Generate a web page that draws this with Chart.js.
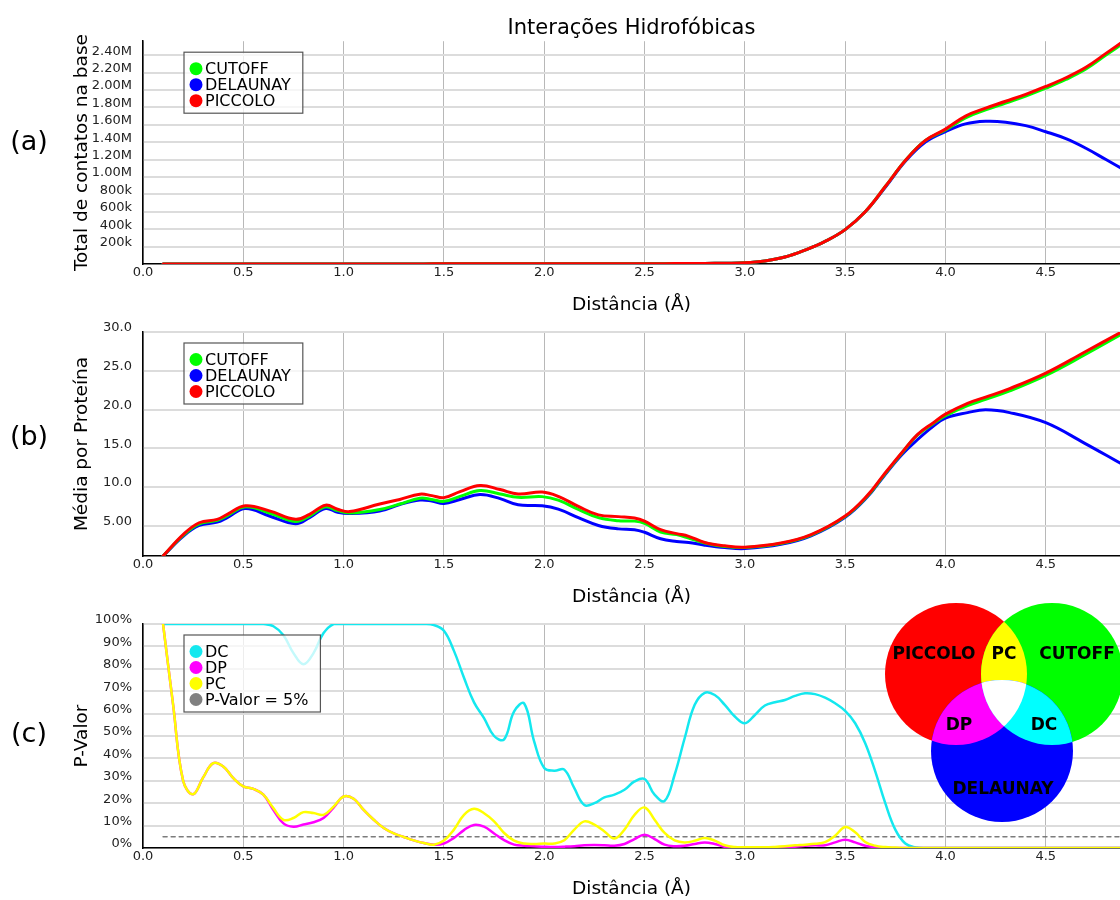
<!DOCTYPE html>
<html>
<head>
<meta charset="utf-8">
<script src="https://cdn.jsdelivr.net/npm/chart.js@4.4.1/dist/chart.umd.min.js"></script>
<style>
  body { margin: 0; background: #fff; width: 1120px; height: 900px; position: relative; overflow: hidden; }
  .panel { position: absolute; left: 0; width: 1120px; height: 316px; }
</style>
</head>
<body>
<div class="panel" style="top:0"><canvas id="chartA" width="1120" height="316"></canvas></div>
<div class="panel" style="top:292px"><canvas id="chartB" width="1120" height="316"></canvas></div>
<div class="panel" style="top:584px"><canvas id="chartC" width="1120" height="316"></canvas></div>
<script>
// x axis (distance, Å)
var ticksX = [0, 0.5, 1.0, 1.5, 2.0, 2.5, 3.0, 3.5, 4.0, 4.5];
var xMax = 4.87;

// (a) total contacts, in millions
var distA = [0.1, 0.2, 0.3, 0.4, 0.5, 0.6, 0.7, 0.8, 0.9, 1.0,
             1.1, 1.2, 1.3, 1.4, 1.5, 1.6, 1.7, 1.8, 1.9, 2.0,
             2.1, 2.2, 2.3, 2.4, 2.5, 2.6, 2.7, 2.8, 2.9, 3.0,
             3.1, 3.2, 3.3, 3.4, 3.5, 3.6, 3.7, 3.8, 3.9, 4.0,
             4.1, 4.2, 4.3, 4.4, 4.5, 4.6, 4.7, 4.8, 4.9];
var cutoffA = [0.001, 0.001, 0.001, 0.001, 0.001, 0.001, 0.001, 0.001, 0.001, 0.001,
               0.001, 0.001, 0.001, 0.001, 0.002, 0.002, 0.002, 0.002, 0.002, 0.002,
               0.002, 0.002, 0.003, 0.003, 0.003, 0.004, 0.005, 0.006, 0.009, 0.014,
               0.035, 0.08, 0.16, 0.26, 0.395, 0.60, 0.89, 1.19, 1.42, 1.54,
               1.68, 1.77, 1.85, 1.93, 2.02, 2.12, 2.24, 2.40, 2.56];
var delaunayA = [0.001, 0.001, 0.001, 0.001, 0.001, 0.001, 0.001, 0.001, 0.001, 0.001,
                 0.001, 0.001, 0.001, 0.001, 0.002, 0.002, 0.002, 0.002, 0.002, 0.002,
                 0.002, 0.002, 0.003, 0.003, 0.003, 0.004, 0.005, 0.006, 0.009, 0.014,
                 0.035, 0.08, 0.16, 0.26, 0.395, 0.60, 0.88, 1.18, 1.40, 1.52,
                 1.61, 1.64, 1.63, 1.59, 1.52, 1.44, 1.33, 1.20, 1.07];
var piccoloA = [0.001, 0.001, 0.001, 0.001, 0.001, 0.001, 0.001, 0.001, 0.001, 0.001,
                0.001, 0.001, 0.001, 0.001, 0.002, 0.002, 0.002, 0.002, 0.002, 0.002,
                0.002, 0.002, 0.003, 0.003, 0.003, 0.004, 0.005, 0.006, 0.009, 0.014,
                0.035, 0.08, 0.16, 0.26, 0.395, 0.60, 0.89, 1.19, 1.42, 1.55,
                1.70, 1.79, 1.87, 1.95, 2.04, 2.14, 2.26, 2.42, 2.58];
var ticksA = [0.2, 0.4, 0.6, 0.8, 1.0, 1.2, 1.4, 1.6, 1.8, 2.0, 2.2, 2.4];

// (b) mean per protein
var distB = [0.10, 0.20, 0.28, 0.37, 0.42, 0.51, 0.63, 0.76, 0.83, 0.91,
             0.97, 1.03, 1.18, 1.28, 1.38, 1.44, 1.50, 1.58, 1.68, 1.78,
             1.87, 1.99, 2.07, 2.17, 2.27, 2.37, 2.45, 2.50, 2.58, 2.66,
             2.72, 2.80, 2.90, 3.00, 3.18, 3.33, 3.50, 3.61, 3.69, 3.78,
             3.86, 3.94, 4.00, 4.11, 4.20, 4.32, 4.50, 4.69, 4.87];
var cutoffB = [1.10, 3.75, 5.25, 5.70, 6.30, 7.45, 6.65, 5.55, 6.25, 7.45,
               6.95, 6.65, 7.10, 7.80, 8.55, 8.40, 8.15, 8.80, 9.55, 9.10,
               8.67, 8.76, 8.30, 7.10, 6.05, 5.65, 5.60, 5.30, 4.20, 3.86,
               3.42, 2.77, 2.32, 2.20, 2.72, 3.80, 6.20, 8.80, 11.40, 14.30,
               16.70, 18.20, 19.20, 20.50, 21.30, 22.40, 24.40, 27.00, 29.60];
var delaunayB = [1.10, 3.64, 5.04, 5.47, 6.05, 7.23, 6.26, 5.26, 6.05, 7.23,
                 6.75, 6.57, 6.90, 7.75, 8.32, 8.20, 7.88, 8.40, 9.02, 8.50,
                 7.70, 7.58, 7.14, 6.05, 5.04, 4.60, 4.50, 4.16, 3.33, 2.98,
                 2.85, 2.50, 2.19, 2.06, 2.60, 3.70, 6.10, 8.70, 11.30, 14.10,
                 16.10, 17.86, 18.90, 19.60, 19.96, 19.60, 18.30, 15.70, 13.10];
var piccoloB = [1.10, 3.86, 5.39, 5.83, 6.48, 7.58, 6.92, 5.83, 6.48, 7.66,
                7.14, 6.83, 7.80, 8.40, 9.07, 8.89, 8.63, 9.41, 10.20, 9.67,
                9.11, 9.35, 8.80, 7.50, 6.40, 6.18, 6.00, 5.60, 4.50, 3.99,
                3.64, 2.85, 2.41, 2.24, 2.77, 3.86, 6.26, 8.89, 11.50, 14.36,
                16.76, 18.30, 19.40, 20.80, 21.60, 22.70, 24.70, 27.35, 29.90];
var ticksB = [5, 10, 15, 20, 25, 30];

// (c) p-values (%)
var distC = [0.10, 0.15, 0.20, 0.25, 0.30, 0.35, 0.40, 0.45, 0.50, 0.55,
             0.60, 0.65, 0.70, 0.75, 0.80, 0.85, 0.90, 0.95, 1.00, 1.05,
             1.10, 1.15, 1.20, 1.25, 1.30, 1.35, 1.40, 1.45, 1.50, 1.55,
             1.60, 1.65, 1.70, 1.75, 1.80, 1.85, 1.90, 1.95, 2.00, 2.05,
             2.10, 2.15, 2.20, 2.25, 2.30, 2.35, 2.40, 2.45, 2.50, 2.55,
             2.60, 2.65, 2.70, 2.75, 2.80, 2.85, 2.90, 2.95, 3.00, 3.05,
             3.10, 3.15, 3.20, 3.25, 3.30, 3.35, 3.40, 3.45, 3.50, 3.55,
             3.60, 3.65, 3.70, 3.75, 3.80, 3.85, 3.90, 4.00, 4.50, 4.90];
var pDC = [100, 100, 100, 100, 100, 100, 100, 100, 100, 100,
           100, 99, 95, 87, 82, 87, 96, 100, 100, 100,
           100, 100, 100, 100, 100, 100, 100, 99.5, 97, 88,
           76, 65, 58, 50, 48.5, 61, 64.5, 47.5, 35.7, 34.5,
           35, 26.7, 19.2, 20, 22.6, 23.8, 26, 29.7, 30.8, 23.8,
           21, 32.7, 49, 63.9, 69.3, 68.3, 63.9, 58.7, 55.7, 59.4,
           63.6, 65.1, 66.1, 67.9, 69.1, 68.7, 67.1, 64.6, 61.2, 55.7,
           46.8, 34.2, 20, 8.2, 2, 0.3, 0, 0, 0, 0];
var pDP = [100, 64, 30, 24, 31.5, 37.9, 36.4, 31.2, 27.5, 26.4,
           23.8, 17, 11, 9.5, 10.5, 11.5, 13.4, 18, 23, 22,
           17, 12.6, 8.9, 6.5, 4.9, 3.4, 2.2, 1.5, 2, 4.5,
           8, 10.3, 9.5, 6.5, 3.5, 1.5, 1, 0.8, 0.6, 0.5,
           0.6, 0.8, 1.2, 1.3, 1.2, 1, 1.8, 4, 5.9, 4,
           1.5, 0.8, 1, 1.8, 2.5, 1.8, 0.5, 0.2, 0.1, 0.2,
           0.3, 0.3, 0.4, 0.6, 1, 1.2, 1.2, 2.5, 3.7, 2.5,
           1, 0.4, 0.2, 0, 0, 0, 0, 0, 0, 0];
var pPC = [100, 64, 30, 24, 31.5, 37.9, 36.4, 31.2, 27.5, 26.4,
           23.8, 17.8, 12.6, 13.4, 16, 15.6, 14.8, 18.5, 23, 22,
           17, 12.6, 8.9, 6.5, 4.9, 3.4, 2.2, 1.5, 3.3, 8.2,
           14.8, 17.5, 15.5, 11.9, 6.7, 3.3, 2, 1.8, 2, 2,
           3.5, 8.2, 11.9, 10.4, 7.4, 4.2, 8.2, 14.8, 18.1, 12.6,
           6.7, 3.4, 2.5, 3.2, 4.5, 3.3, 1.2, 0.4, 0.3, 0.3,
           0.3, 0.5, 0.8, 1.2, 1.5, 1.9, 2.6, 5.5, 9.4, 7,
           2.7, 1, 0.4, 0.2, 0, 0, 0, 0, 0, 0];
var limiteX = [0.10, 4.90];
var limiteY = [5, 5];
var ticksC = [0, 10, 20, 30, 40, 50, 60, 70, 80, 90, 100];

Chart.defaults.font.family = '"DejaVu Sans", Verdana, sans-serif';
Chart.defaults.color = '#222';

function pts(xs, ys) {
    return xs.map(function (x, i) { return { x: x, y: ys[i] }; });
}

function line(label, xs, ys, color, order, width) {
    return {
        label: label,
        data: pts(xs, ys),
        borderColor: color,
        backgroundColor: color,
        borderWidth: width,
        order: order,
        fill: false
    };
}

// legend box inside the plot, drawn over the lines with a see-through fill
var boxLegend = {
    id: 'boxLegend',
    afterDatasetsDraw: function (chart) {
        var ctx = chart.ctx, area = chart.chartArea;
        var sets = chart.data.datasets;
        var x = area.left + 41, y = area.top + 11;
        ctx.save();
        ctx.font = '16px "DejaVu Sans"';
        var maxW = 0;
        sets.forEach(function (ds) { maxW = Math.max(maxW, ctx.measureText(ds.label).width); });
        var w = 21 + maxW + 12;
        var h = 16.5 + 16 * (sets.length - 1) + 12.5;
        ctx.fillStyle = 'rgba(255,255,255,0.75)';
        ctx.fillRect(x, y, w, h);
        ctx.strokeStyle = '#555';
        ctx.lineWidth = 1.2;
        ctx.strokeRect(x, y, w, h);
        ctx.textBaseline = 'middle';
        sets.forEach(function (ds, i) {
            var cy = y + 16.5 + i * 16;
            ctx.beginPath();
            ctx.arc(x + 12, cy, 6.5, 0, 2 * Math.PI);
            ctx.fillStyle = ds.legendColor || ds.borderColor;
            ctx.fill();
            ctx.fillStyle = '#000';
            ctx.fillText(ds.label, x + 21, cy + 1);
        });
        ctx.restore();
    }
};

// (a) / (b) / (c) tags at the left
var panelTag = {
    id: 'panelTag',
    afterDraw: function (chart, args, opts) {
        var ctx = chart.ctx;
        ctx.save();
        ctx.font = '27px "DejaVu Sans"';
        ctx.fillStyle = '#000';
        ctx.textAlign = 'center';
        ctx.textBaseline = 'middle';
        ctx.fillText(opts.text, 29, opts.y);
        ctx.restore();
    }
};

// three-set diagram, pairwise overlaps in the mixed colours
var venn = {
    id: 'venn',
    afterDraw: function (chart, args, opts) {
        var ctx = chart.ctx;
        var c = opts.circles;
        function path(k) { ctx.beginPath(); ctx.arc(c[k].x, c[k].y, c[k].r, 0, 2 * Math.PI); }
        function region(keys, color) {
            ctx.save();
            keys.forEach(function (k) { path(k); ctx.clip(); });
            ctx.fillStyle = color;
            ctx.fillRect(0, 0, chart.width, chart.height);
            ctx.restore();
        }
        ctx.save();
        ['p', 'c', 'd'].forEach(function (k) { path(k); ctx.fillStyle = c[k].color; ctx.fill(); });
        region(['p', 'c'], '#ffff00');
        region(['p', 'd'], '#ff00ff');
        region(['c', 'd'], '#00ffff');
        region(['p', 'c', 'd'], '#ffffff');
        ctx.font = 'bold 17px "DejaVu Sans"';
        ctx.fillStyle = '#000';
        ctx.textAlign = 'center';
        ctx.textBaseline = 'middle';
        opts.labels.forEach(function (l) { ctx.fillText(l.text, l.x, l.y); });
        ctx.restore();
    }
};

function options(p) {
    return {
        responsive: false,
        animation: false,
        layout: { padding: { top: p.padTop, left: 0, right: 0, bottom: 0 } },
        elements: {
            point: { radius: 0 },
            line: { tension: 0.4, borderCapStyle: 'round', borderJoinStyle: 'round' }
        },
        plugins: {
            legend: { display: false },
            tooltip: { enabled: false },
            title: p.title,
            panelTag: { text: p.tag, y: p.tagY },
            venn: p.venn || {}
        },
        scales: {
            x: {
                type: 'linear',
                min: 0,
                max: xMax,
                afterBuildTicks: function (ax) { ax.ticks = ticksX.map(function (v) { return { value: v }; }); },
                afterFit: function (ax) { ax.height = 52; },
                grid: { color: 'rgba(0,0,0,0.28)', lineWidth: 1, drawTicks: false },
                border: { color: '#000', width: 1.5 },
                ticks: {
                    padding: 1,
                    autoSkip: false,
                    maxRotation: 0,
                    font: { size: 13 },
                    callback: function (v) { return v.toFixed(1); }
                },
                title: {
                    display: true,
                    text: 'Distância (Å)',
                    color: '#000',
                    font: { size: 18.5 },
                    padding: { top: 0, bottom: 0 }
                }
            },
            y: {
                min: p.yMin,
                max: p.yMax,
                afterBuildTicks: function (ax) { ax.ticks = p.yTicks.map(function (v) { return { value: v }; }); },
                afterFit: function (ax) { ax.width = 143; },
                grid: { color: '#dcdcdc', lineWidth: 2, drawTicks: false },
                border: { color: '#000', width: 1.5 },
                ticks: {
                    padding: 11,
                    labelOffset: -4,
                    autoSkip: false,
                    font: { size: 13 },
                    callback: p.fmt
                },
                title: {
                    display: true,
                    text: p.yTitle,
                    color: '#000',
                    font: { size: 18.5 },
                    padding: { top: 71, bottom: 0 }
                }
            }
        }
    };
}

// (a)
new Chart(document.getElementById('chartA'), {
    type: 'line',
    data: {
        datasets: [
            line('CUTOFF', distA, cutoffA, '#00ff00', 1, 3),
            line('DELAUNAY', distA, delaunayA, '#0000ff', 2, 3),
            line('PICCOLO', distA, piccoloA, '#ff0000', 0, 3)
        ]
    },
    options: options({
        padTop: 0,
        title: {
            display: true,
            text: 'Interações Hidrofóbicas',
            fullSize: false,
            color: '#000',
            font: { size: 21, weight: 'normal' },
            padding: { top: 16, bottom: 0 }
        },
        tag: '(a)', tagY: 143,
        yMin: 0, yMax: 2.56, yTicks: ticksA,
        yTitle: 'Total de contatos na base',
        fmt: function (v) { return v >= 1 ? v.toFixed(2) + 'M' : Math.round(v * 1000) + 'k'; }
    }),
    plugins: [boxLegend, panelTag]
});

// (b)
new Chart(document.getElementById('chartB'), {
    type: 'line',
    data: {
        datasets: [
            line('CUTOFF', distB, cutoffB, '#00ff00', 1, 3),
            line('DELAUNAY', distB, delaunayB, '#0000ff', 2, 3),
            line('PICCOLO', distB, piccoloB, '#ff0000', 0, 3)
        ]
    },
    options: options({
        padTop: 40,
        title: { display: false },
        tag: '(b)', tagY: 146,
        yMin: 1.1, yMax: 30, yTicks: ticksB,
        yTitle: 'Média por Proteína',
        fmt: function (v) { return v.toPrecision(3); }
    }),
    plugins: [boxLegend, panelTag]
});

// (c)
var limite = line('P-Valor = 5%', limiteX, limiteY, 'rgba(110,110,110,0.9)', 3, 1.5);
limite.borderDash = [4, 4];
limite.legendColor = '#808080';

new Chart(document.getElementById('chartC'), {
    type: 'line',
    data: {
        datasets: [
            line('DC', distC, pDC, '#14e8ef', 2, 2.5),
            line('DP', distC, pDP, '#ff00ff', 1, 2.5),
            line('PC', distC, pPC, '#ffff00', 0, 2.5),
            limite
        ]
    },
    options: options({
        padTop: 40,
        title: { display: false },
        tag: '(c)', tagY: 151,
        yMin: 0, yMax: 100, yTicks: ticksC,
        yTitle: 'P-Valor',
        fmt: function (v) { return v + '%'; },
        venn: {
            circles: {
                p: { x: 956, y: 90, r: 71, color: '#ff0000' },
                c: { x: 1052, y: 90, r: 71, color: '#00ff00' },
                d: { x: 1002, y: 167, r: 71, color: '#0000ff' }
            },
            labels: [
                { text: 'PICCOLO', x: 934, y: 71 },
                { text: 'PC', x: 1004, y: 71 },
                { text: 'CUTOFF', x: 1077, y: 71 },
                { text: 'DP', x: 959, y: 142 },
                { text: 'DC', x: 1044, y: 142 },
                { text: 'DELAUNAY', x: 1003, y: 206 }
            ]
        }
    }),
    plugins: [boxLegend, panelTag, venn]
});
</script>
</body>
</html>
